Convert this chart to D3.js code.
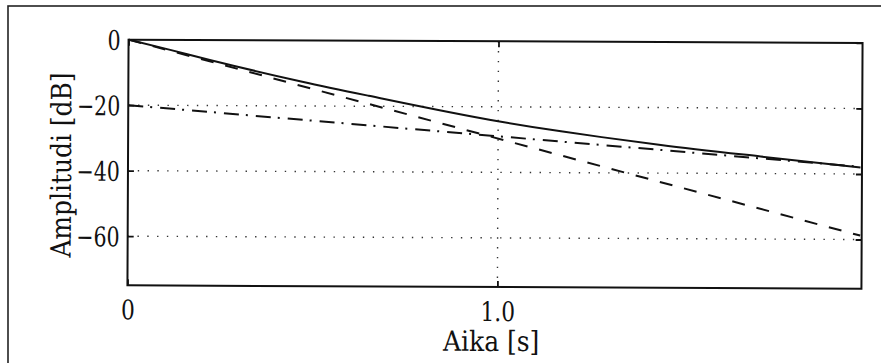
<!DOCTYPE html>
<html>
<head>
<meta charset="utf-8">
<script src="https://d3js.org/d3.v7.min.js"></script>
<style>
  html, body { margin: 0; padding: 0; background: #fff; }
  svg { display: block; }
</style>
</head>
<body>
<div id="chart"></div>
<script>
// Decay curves: level in dB against time in seconds
const timeSolid  = [0, 0.11, 0.22, 0.47, 0.65, 1.0, 1.17, 1.28, 1.44, 1.71, 1.98];
const levelSolid = [0, -3.0, -6.1, -12.6, -16.8, -24.4, -27.4, -29.1, -31.4, -34.8, -38.0];

const timeDashed  = [0, 1.98];
const levelDashed = [0, -58.8];

const timeDashDot  = [0, 1.98];
const levelDashDot = [-20, -37.8];

const yTicks = [0, -20, -40, -60];
const yTickLabels = ["0", "\u221220", "\u221240", "\u221260"];
const xTicks = [0, 1.0];
const xTickLabels = ["0", "1.0"];
const xTitle = "Aika [s]";
const yTitle = "Amplitudi [dB]";

const FONT = "DejaVu Serif";
const INK = "#111";

const W = 881, H = 363;
const plot = { left: 128, right: 862, top: 41.3, bottom: 287 };

// squeeze the wide serif face a little so labels keep a book-like width
function squeeze(sel, factor) {
  sel.each(function () {
    const len = this.getComputedTextLength();
    if (len > 0) {
      d3.select(this)
        .attr("textLength", (len * factor).toFixed(1))
        .attr("lengthAdjust", "spacingAndGlyphs");
    }
  });
}

const svg = d3.select("#chart").append("svg")
  .attr("width", W).attr("height", H);

// outer frame
svg.append("rect")
  .attr("x", 8).attr("y", 6)
  .attr("width", W + 20).attr("height", H + 20)
  .attr("fill", "none").attr("stroke", "#222").attr("stroke-width", 1.6);

// the printed figure sits very slightly tilted on the page
const root = svg.append("g")
  .attr("transform", `rotate(0.26, ${(plot.left + plot.right) / 2}, ${(plot.top + plot.bottom) / 2})`);

const x = d3.scaleLinear().domain([0, 1.984]).range([plot.left, plot.right]);
const y = d3.scaleLinear().domain([-75, 0]).range([plot.bottom, plot.top]);

// dotted grid
const grid = root.append("g").attr("stroke", "#333").attr("stroke-width", 1.4)
  .attr("stroke-dasharray", "1.4,8.4");
yTicks.filter(v => v !== 0).forEach(v => {
  grid.append("line")
    .attr("x1", x(0)).attr("x2", x.range()[1])
    .attr("y1", y(v)).attr("y2", y(v));
});
xTicks.filter(v => v !== 0).forEach(v => {
  grid.append("line")
    .attr("x1", x(v)).attr("x2", x(v))
    .attr("y1", y.range()[1]).attr("y2", y.range()[0]);
});

// axes with inward ticks on all four sides
const axisStyle = g => {
  g.attr("font-family", FONT).attr("font-size", 27);
  g.select(".domain").remove();
  g.selectAll(".tick line").attr("stroke", INK).attr("stroke-width", 1.8);
  g.selectAll(".tick text").attr("fill", INK);
};
root.append("g").attr("transform", `translate(${plot.left},0)`)
  .call(d3.axisLeft(y).tickValues(yTicks).tickSize(-6).tickFormat((d, i) => yTickLabels[i]).tickPadding(8))
  .call(axisStyle)
  .call(g => g.selectAll(".tick text").attr("dy", "0.36em").call(squeeze, 0.76));
root.append("g").attr("transform", `translate(${plot.right},0)`)
  .call(d3.axisRight(y).tickValues(yTicks).tickSize(-6).tickFormat(""))
  .call(axisStyle);
root.append("g").attr("transform", `translate(0,${plot.bottom})`)
  .call(d3.axisBottom(x).tickValues(xTicks).tickSize(-6).tickFormat((d, i) => xTickLabels[i]))
  .call(axisStyle)
  .call(g => g.selectAll(".tick text").attr("y", 34).attr("dy", 0).call(squeeze, 0.8));
root.append("g").attr("transform", `translate(0,${plot.top})`)
  .call(d3.axisTop(x).tickValues(xTicks).tickSize(-6).tickFormat(""))
  .call(axisStyle);

// plot box
root.append("rect")
  .attr("x", plot.left).attr("y", plot.top)
  .attr("width", plot.right - plot.left).attr("height", plot.bottom - plot.top)
  .attr("fill", "none").attr("stroke", INK).attr("stroke-width", 2);

// curves
const line = d3.line().x(d => x(d[0])).y(d => y(d[1])).curve(d3.curveMonotoneX);
const curves = [
  { t: timeDashDot, v: levelDashDot, dash: "15,7,2,8" },
  { t: timeDashed, v: levelDashed, dash: "13,12" },
  { t: timeSolid, v: levelSolid, dash: null }
];
curves.forEach(c => {
  root.append("path")
    .datum(c.t.map((t, i) => [t, c.v[i]]))
    .attr("d", line)
    .attr("fill", "none")
    .attr("stroke", INK)
    .attr("stroke-width", 2)
    .attr("stroke-dasharray", c.dash);
});

// axis titles
root.append("text")
  .attr("x", 492).attr("y", 351)
  .attr("text-anchor", "middle")
  .attr("font-family", FONT).attr("font-size", 28)
  .attr("fill", INK)
  .text(xTitle)
  .call(squeeze, 0.89);
root.append("text")
  .attr("transform", "translate(71,167) rotate(-90)")
  .attr("text-anchor", "middle")
  .attr("font-family", FONT).attr("font-size", 28)
  .attr("fill", INK)
  .text(yTitle)
  .call(squeeze, 0.89);
</script>
</body>
</html>
